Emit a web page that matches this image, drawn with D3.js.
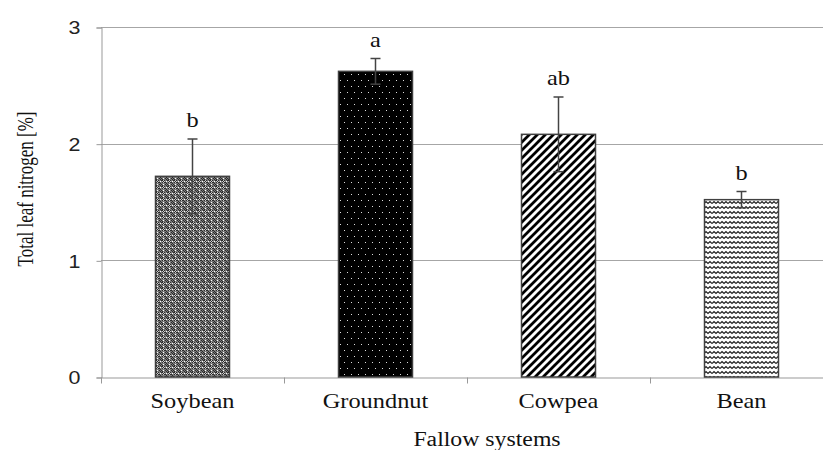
<!DOCTYPE html>
<html>
<head>
<meta charset="utf-8">
<script src="https://cdn.jsdelivr.net/npm/d3@7"></script>
<style>
  html, body { margin: 0; padding: 0; background: #fff; }
  svg { display: block; }
</style>
</head>
<body>
<svg id="chart" width="823" height="450"></svg>
<script>
// chart values
var categories = ['Soybean', 'Groundnut', 'Cowpea', 'Bean'];
var nitrogen = [1.72, 2.62, 2.08, 1.52];
var errors = [0.32, 0.11, 0.32, 0.07];
var letters = ['b', 'a', 'ab', 'b'];
var yTicks = [0, 1, 2, 3];

var svg = d3.select('#chart');
var plotLeft = 101, plotRight = 833, plotTop = 27, plotBottom = 377;
var stretch = 1.16; // text in the picture is a bit wider than tall

var x = d3.scaleBand().domain(categories).range([plotLeft, plotRight]);
var y = d3.scaleLinear().domain([0, 3]).range([plotBottom, plotTop]);
var barW = 74;

// fill patterns, one per bar
var defs = svg.append('defs');

var p1 = defs.append('pattern').attr('id', 'pat0')
	.attr('patternUnits', 'userSpaceOnUse').attr('width', 6).attr('height', 6);
p1.append('rect').attr('width', 6).attr('height', 6).attr('fill', '#7a7a7a');
[[0,0],[2,0],[1,1],[0,2],[2,2],[4,3],[3,4],[5,4],[4,5],[5,0],[3,2],[0,5]].forEach(function(d) {
	p1.append('rect').attr('x', d[0]).attr('y', d[1]).attr('width', 1).attr('height', 1).attr('fill', '#2a2a2a');
});
[[1,0],[0,1],[2,1],[1,2]].forEach(function(d) {
	p1.append('rect').attr('x', d[0]).attr('y', d[1]).attr('width', 1).attr('height', 1).attr('fill', '#c8c8c8');
});
p1.append('rect').attr('x', 4).attr('y', 1).attr('width', 1).attr('height', 1).attr('fill', '#fff');
p1.append('rect').attr('x', 1).attr('y', 4).attr('width', 1).attr('height', 1).attr('fill', '#fff');

var p2 = defs.append('pattern').attr('id', 'pat1')
	.attr('patternUnits', 'userSpaceOnUse').attr('width', 7).attr('height', 12);
p2.append('rect').attr('width', 7).attr('height', 12).attr('fill', '#000');
p2.append('rect').attr('x', 1).attr('y', 2).attr('width', 1).attr('height', 1).attr('fill', '#ddd');
p2.append('rect').attr('x', 4).attr('y', 8).attr('width', 1).attr('height', 1).attr('fill', '#ddd');

var p3 = defs.append('pattern').attr('id', 'pat2')
	.attr('patternUnits', 'userSpaceOnUse').attr('width', 8).attr('height', 8);
p3.append('rect').attr('width', 8).attr('height', 8).attr('fill', '#fff');
p3.append('path').attr('d', 'M0,8 L8,0 M-2,2 L2,-2 M6,10 L10,6')
	.attr('stroke', '#000').attr('stroke-width', 2.8);

var p4 = defs.append('pattern').attr('id', 'pat3')
	.attr('patternUnits', 'userSpaceOnUse').attr('width', 8).attr('height', 5);
p4.append('rect').attr('width', 8).attr('height', 5).attr('fill', '#fff');
p4.append('path').attr('d', 'M0,3.5 L2,1.5 L4,3.5 L6,1.5 L8,3.5')
	.attr('fill', 'none').attr('stroke', '#222').attr('stroke-width', 1.2);

// gridlines
svg.append('g').selectAll('line').data(yTicks.slice(1)).join('line')
	.attr('x1', plotLeft).attr('x2', 823)
	.attr('y1', function(d) { return Math.round(y(d)) + 0.5; })
	.attr('y2', function(d) { return Math.round(y(d)) + 0.5; })
	.attr('stroke', '#a6a6a6').attr('stroke-width', 1);

// y axis
var yAxis = svg.append('g').attr('transform', 'translate(' + (plotLeft + 0.5) + ',0.5)')
	.call(d3.axisLeft(y).tickValues(yTicks).tickSize(5).tickFormat(d3.format('d')));
yAxis.select('.domain').attr('stroke', '#999');
yAxis.selectAll('.tick line').attr('stroke', '#999');
yAxis.selectAll('.tick text')
	.attr('font-family', 'Liberation Sans, Arial, sans-serif')
	.attr('font-size', 18.5).attr('fill', '#222')
	.attr('x', null).attr('dy', null)
	.attr('text-anchor', 'end').attr('dominant-baseline', 'central')
	.attr('transform', 'translate(-21,0) scale(' + stretch + ',1)');

// x axis
var xAxis = svg.append('g').attr('transform', 'translate(0,' + (plotBottom + 0.5) + ')')
	.call(d3.axisBottom(x).tickSize(0).tickFormat(''));
xAxis.select('.domain').attr('stroke', '#999');
xAxis.selectAll('.tick').remove();
xAxis.selectAll('line.sep').data(categories.concat(['end'])).join('line')
	.attr('class', 'sep')
	.attr('x1', function(d, i) { return Math.round(plotLeft + i * x.step()) + 0.5; })
	.attr('x2', function(d, i) { return Math.round(plotLeft + i * x.step()) + 0.5; })
	.attr('y1', 0).attr('y2', 6).attr('stroke', '#999');

// bars
svg.append('g').selectAll('rect').data(categories).join('rect')
	.attr('x', function(d) { return x(d) + x.bandwidth() / 2 - barW / 2; })
	.attr('width', barW)
	.attr('y', function(d, i) { return y(nitrogen[i]); })
	.attr('height', function(d, i) { return y(0) - y(nitrogen[i]); })
	.attr('fill', function(d, i) { return 'url(#pat' + i + ')'; })
	.attr('stroke', '#404040').attr('stroke-width', 1.5);

// error bars
var err = svg.append('g').attr('stroke', '#444').attr('stroke-width', 1.5);
categories.forEach(function(c, i) {
	var cx = x(c) + x.bandwidth() / 2;
	var hi = y(nitrogen[i] + errors[i]), lo = y(nitrogen[i] - errors[i]);
	err.append('line').attr('x1', cx).attr('x2', cx).attr('y1', hi).attr('y2', lo);
	err.append('line').attr('x1', cx - 5).attr('x2', cx + 5).attr('y1', hi).attr('y2', hi);
	err.append('line').attr('x1', cx - 5).attr('x2', cx + 5).attr('y1', lo).attr('y2', lo);
});

// significance letters
svg.append('g').selectAll('text').data(categories).join('text')
	.attr('transform', function(d, i) {
		return 'translate(' + (x(d) + x.bandwidth() / 2) + ',' + (y(nitrogen[i] + errors[i]) - 12) + ') scale(' + stretch + ',1)';
	})
	.attr('text-anchor', 'middle')
	.attr('font-family', 'Liberation Serif, Times New Roman, serif')
	.attr('font-size', 21).attr('fill', '#111')
	.text(function(d, i) { return letters[i]; });

// category labels
svg.append('g').selectAll('text').data(categories).join('text')
	.attr('transform', function(d) {
		return 'translate(' + (x(d) + x.bandwidth() / 2) + ',408) scale(' + stretch + ',1)';
	})
	.attr('text-anchor', 'middle')
	.attr('font-family', 'Liberation Serif, Times New Roman, serif')
	.attr('font-size', 21).attr('fill', '#111')
	.text(function(d) { return d; });

// axis titles
svg.append('text')
	.attr('transform', 'translate(487,446) scale(' + stretch + ',1)')
	.attr('text-anchor', 'middle')
	.attr('font-family', 'Liberation Serif, Times New Roman, serif')
	.attr('font-size', 20.5).attr('fill', '#111')
	.text('Fallow systems');

svg.append('text')
	.attr('transform', 'translate(33,189) scale(1.4,1) rotate(-90)')
	.attr('text-anchor', 'middle')
	.attr('font-family', 'Liberation Serif, Times New Roman, serif')
	.attr('font-size', 17).attr('fill', '#111')
	.text('Total leaf nitrogen [%]');
</script>
</body>
</html>
